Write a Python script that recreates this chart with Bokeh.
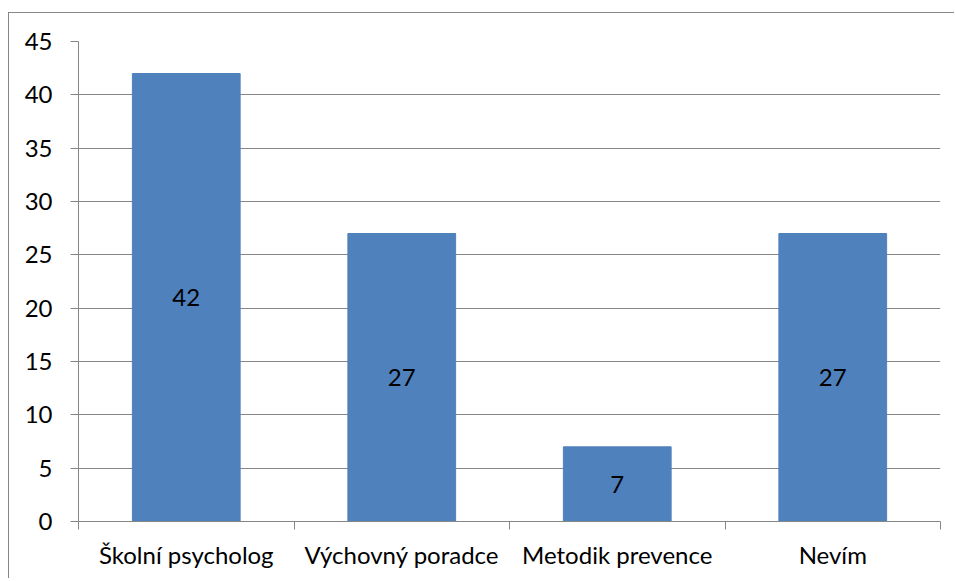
from bokeh.plotting import figure
from bokeh.models import Range1d, FixedTicker, ColumnDataSource, LabelSet
from bokeh.core.properties import value
from bokeh.embed import file_html
from bokeh.resources import INLINE

categories = ["Školní psycholog", "Výchovný poradce", "Metodik prevence", "Nevím"]
values = [42, 27, 7, 27]
y_ticks = [0, 5, 10, 15, 20, 25, 30, 35, 40, 45]

FONT = "Lato"
GRAY = "#868686"

xs = [i + 0.5 for i in range(len(categories))]
src = ColumnDataSource(dict(
    x=xs,
    top=values,
    mid=[v / 2 for v in values],
    lab=[str(v) for v in values],
))

p = figure(width=946, height=566, output_backend="svg", toolbar_location=None,
           x_range=Range1d(0, len(categories)), y_range=Range1d(0, 45),
           min_border_left=69, min_border_top=28, min_border_right=15, min_border_bottom=58)
p.styles = {"margin-top": "12px", "margin-left": "8px",
            "border-left": "1px solid " + GRAY, "border-top": "1px solid " + GRAY}
p.outline_line_color = None
p.background_fill_color = "white"
p.border_fill_color = "white"

p.vbar(x="x", top="top", bottom=0, width=0.5, source=src,
       fill_color="#4F81BD", line_color="#4F81BD")

labels = LabelSet(x="x", y="mid", text="lab", source=src,
                  text_align="center", text_baseline="middle",
                  text_font=value(FONT), text_font_size=value("24px"), text_color="black")
p.add_layout(labels)

# y axis
p.yaxis.ticker = FixedTicker(ticks=y_ticks)
p.yaxis.axis_line_color = GRAY
p.yaxis.major_tick_line_color = GRAY
p.yaxis.major_tick_out = 8
p.yaxis.major_tick_in = 0
p.yaxis.minor_tick_line_color = None
p.yaxis.major_label_text_font = FONT
p.yaxis.major_label_text_font_size = "24px"
p.yaxis.major_label_text_color = "black"
p.yaxis.major_label_standoff = 18

# x axis: labels at centres, ticks at boundaries
p.xaxis.ticker = FixedTicker(ticks=xs, minor_ticks=list(range(len(categories) + 1)))
p.xaxis.major_label_overrides = {x: c for x, c in zip(xs, categories)}
p.xaxis.axis_line_color = GRAY
p.xaxis.major_tick_line_color = None
p.xaxis.minor_tick_line_color = GRAY
p.xaxis.minor_tick_out = 8
p.xaxis.minor_tick_in = 0
p.xaxis.major_label_text_font = FONT
p.xaxis.major_label_text_font_size = "24px"
p.xaxis.major_label_text_color = "black"
p.xaxis.major_label_standoff = 10

p.xgrid.grid_line_color = None
p.ygrid.ticker = FixedTicker(ticks=y_ticks)
p.ygrid.grid_line_color = GRAY
p.ygrid.grid_line_width = 1

open("out.html", "w").write(file_html(p, INLINE))
